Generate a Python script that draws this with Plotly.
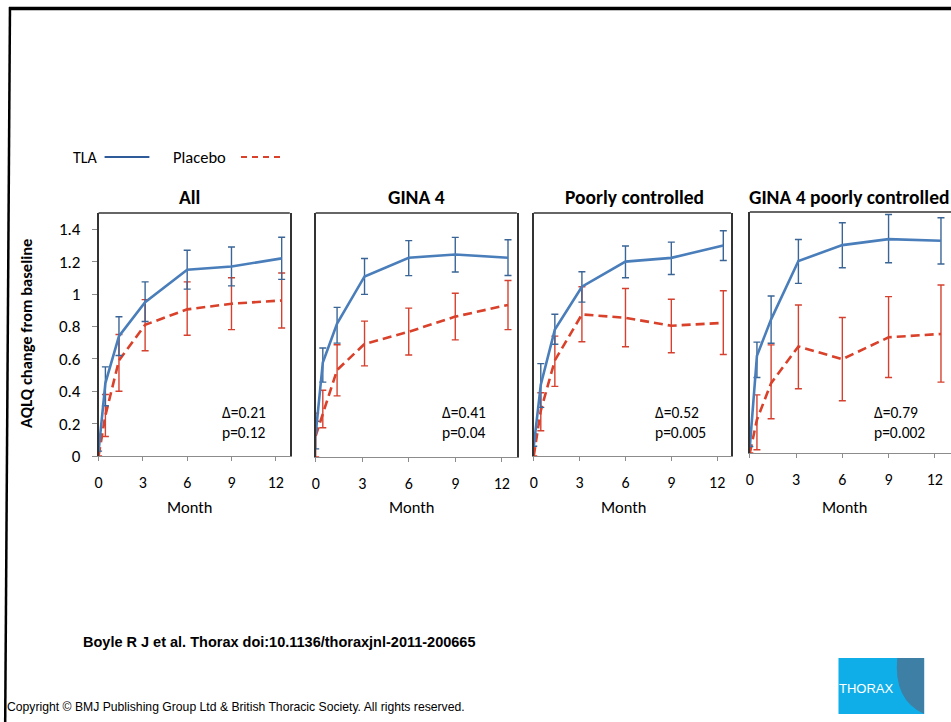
import plotly.graph_objects as go

# ---------------- data ----------------
months = [0, 0.46, 1.38, 3.15, 6, 9, 12.4]
x_ticks = [0, 3, 6, 9, 12]
y_ticks = [0, 0.2, 0.4, 0.6, 0.8, 1, 1.2, 1.4]
y_tick_labels = ["0", "0.2", "0.4", "0.6", "0.8", "1", "1.2", "1.4"]

panel_titles = ["All", "GINA 4", "Poorly controlled", "GINA 4 poorly controlled"]
panel_stats = ["Δ=0.21<br>p=0.12", "Δ=0.41<br>p=0.04", "Δ=0.52<br>p=0.005", "Δ=0.79<br>p=0.002"]

# All
tla_all = [0.03, 0.45, 0.74, 0.95, 1.15, 1.17, 1.22]
tla_all_lo = [0.03, 0.31, 0.62, 0.83, 1.03, 1.05, 1.09]
tla_all_hi = [0.03, 0.55, 0.86, 1.075, 1.27, 1.29, 1.35]
pla_all = [0.0, 0.25, 0.59, 0.81, 0.905, 0.94, 0.96]
pla_all_lo = [0.0, 0.12, 0.40, 0.65, 0.745, 0.78, 0.79]
pla_all_hi = [0.0, 0.38, 0.75, 0.965, 1.075, 1.10, 1.13]

# GINA 4
tla_g4 = [0.14, 0.58, 0.82, 1.11, 1.225, 1.245, 1.225]
tla_g4_lo = [0.05, 0.46, 0.70, 1.0, 1.115, 1.137, 1.116]
tla_g4_hi = [0.22, 0.67, 0.92, 1.22, 1.33, 1.35, 1.336]
pla_g4 = [0.13, 0.27, 0.535, 0.695, 0.77, 0.863, 0.935]
pla_g4_lo = [0.0, 0.18, 0.376, 0.56, 0.627, 0.72, 0.783]
pla_g4_hi = [0.27, 0.41, 0.69, 0.835, 0.915, 1.007, 1.085]

# Poorly controlled
tla_pc = [0.06, 0.44, 0.78, 1.045, 1.2, 1.223, 1.30]
tla_pc_lo = [0.06, 0.30, 0.69, 0.95, 1.10, 1.12, 1.207]
tla_pc_hi = [0.06, 0.57, 0.875, 1.137, 1.296, 1.32, 1.39]
pla_pc = [0.0, 0.28, 0.59, 0.874, 0.853, 0.804, 0.822]
pla_pc_lo = [0.0, 0.156, 0.43, 0.705, 0.674, 0.637, 0.627]
pla_pc_hi = [0.0, 0.39, 0.74, 1.045, 1.034, 0.968, 1.02]

# GINA 4 poorly controlled
tla_g4pc = [0.04, 0.605, 0.832, 1.195, 1.294, 1.331, 1.321]
tla_g4pc_lo = [0.04, 0.47, 0.683, 1.056, 1.153, 1.184, 1.176]
tla_g4pc_hi = [0.04, 0.69, 0.977, 1.329, 1.433, 1.484, 1.464]
pla_g4pc = [0.0, 0.207, 0.435, 0.663, 0.584, 0.72, 0.741]
pla_g4pc_lo = [0.0, 0.02, 0.213, 0.40, 0.325, 0.47, 0.441]
pla_g4pc_hi = [0.0, 0.362, 0.673, 0.921, 0.843, 0.973, 1.046]

panels = [
    (tla_all, tla_all_lo, tla_all_hi, pla_all, pla_all_lo, pla_all_hi),
    (tla_g4, tla_g4_lo, tla_g4_hi, pla_g4, pla_g4_lo, pla_g4_hi),
    (tla_pc, tla_pc_lo, tla_pc_hi, pla_pc, pla_pc_lo, pla_pc_hi),
    (tla_g4pc, tla_g4pc_lo, tla_g4pc_hi, pla_g4pc, pla_g4pc_lo, pla_g4pc_hi),
]

# ---------------- layout geometry (design pixels, 951 x 722) ----------------
W, H = 951, 722
FIG_H = 733
def px(x):
    return x / W
def py(y):
    return 1 - y / H

panel_px = [  # left, right, top, bottom, xmax
    (95, 287, 213, 456, 12.95),
    (313, 515, 213, 457, 12.97),
    (532, 730, 213, 456, 12.9),
    (749, 951, 212, 453, 13.05),
]
title_cx = [186, 414, 633, 849]
month_cx = [187, 410, 623, 845]
stat_left = [217, 438, 652, 872]

BLUE = "#4A7EBB"
BLUE_ERR = "#3A6596"
RED = "#D9412B"
RED_ERR = "#D6402E"
FONT = "Carlito, Lato, sans-serif"

fig = go.Figure()
layout = dict(
    width=W, height=FIG_H, margin=dict(l=0, r=0, t=0, b=0),
    paper_bgcolor="white", plot_bgcolor="white", showlegend=False,
)
annotations = []
shapes = []

for i, (t, tlo, thi, p, plo, phi) in enumerate(panels):
    n = "" if i == 0 else str(i + 1)
    xa, ya = "x" + n, "y" + n
    l, r, tp, bt, xmax = panel_px[i]
    fig.add_trace(go.Scatter(
        x=months, y=p, xaxis=xa, yaxis=ya, mode="lines", cliponaxis=False,
        line=dict(color=RED, width=2.6, dash="9px,5px"),
        error_y=dict(type="data", symmetric=False,
                     array=[h - v for h, v in zip(phi, p)],
                     arrayminus=[v - lo for v, lo in zip(p, plo)],
                     color=RED_ERR, thickness=1.4, width=3.5),
    ))
    fig.add_trace(go.Scatter(
        x=months, y=t, xaxis=xa, yaxis=ya, mode="lines", cliponaxis=False,
        line=dict(color=BLUE, width=2.6),
        error_y=dict(type="data", symmetric=False,
                     array=[h - v for h, v in zip(thi, t)],
                     arrayminus=[v - lo for v, lo in zip(t, tlo)],
                     color=BLUE_ERR, thickness=1.4, width=3.5),
    ))
    layout["xaxis" + n] = dict(
        domain=[px(l), px(r)], range=[0, xmax], anchor=ya,
        tickvals=x_ticks, ticks="outside", ticklen=4, tickcolor="#8c8c8c",
        showline=True, linecolor="#8c8c8c", linewidth=1, mirror=False,
        showgrid=False, zeroline=False, fixedrange=True,
        tickfont=dict(family=FONT, size=16, color="black"),
        ticklabelstandoff=8,
    )
    layout["yaxis" + n] = dict(
        domain=[py(bt), py(tp)], range=[0, 1.5], anchor=xa,
        showline=True, linecolor="#333333", linewidth=1.5,
        mirror=(i < 3), showgrid=False, zeroline=False,
        tickvals=y_ticks, ticktext=y_tick_labels,
        ticks="outside" if i == 0 else "", ticklen=5, tickcolor="#8c8c8c",
        showticklabels=(i == 0), fixedrange=True,
        tickfont=dict(family=FONT, size=17, color="black"),
        ticklabelstandoff=8,
    )
    # top border of panel box
    shapes.append(dict(type="line", xref=xa + " domain", yref=ya + " domain",
                       x0=0, x1=1 if i < 3 else 1.02, y0=1, y1=1,
                       line=dict(color="#333333", width=1.5)))
    annotations.append(dict(text="<b>" + panel_titles[i] + "</b>", xref="paper", yref="paper",
                            x=px(title_cx[i]), y=py(197), showarrow=False,
                            font=dict(family=FONT, size=19.5, color="black"),
                            xanchor="center", yanchor="middle"))
    annotations.append(dict(text="Month", xref="paper", yref="paper",
                            x=px(month_cx[i]), y=py(507), showarrow=False,
                            font=dict(family=FONT, size=16.5, color="black"),
                            xanchor="center", yanchor="middle"))
    annotations.append(dict(text=panel_stats[i], xref="paper", yref="paper",
                            x=px(stat_left[i]), y=py(422), showarrow=False, align="left",
                            font=dict(family=FONT, size=15.5, color="black"),
                            xanchor="left", yanchor="middle"))

# y-axis title
annotations.append(dict(text="<b>AQLQ change from baseline</b>", xref="paper", yref="paper",
                        x=px(22), y=py(333), showarrow=False, textangle=-90,
                        font=dict(family=FONT, size=16.5, color="black"),
                        xanchor="center", yanchor="middle"))

# legend
annotations.append(dict(text="TLA", xref="paper", yref="paper", x=px(67), y=py(157),
                        showarrow=False, xanchor="left", yanchor="middle",
                        font=dict(family=FONT, size=16, color="black")))
annotations.append(dict(text="Placebo", xref="paper", yref="paper", x=px(168), y=py(157),
                        showarrow=False, xanchor="left", yanchor="middle",
                        font=dict(family=FONT, size=16.5, color="black")))
shapes.append(dict(type="line", xref="paper", yref="paper", x0=px(101), x1=px(146),
                   y0=py(157), y1=py(157), line=dict(color="#2F5B9A", width=2)))
shapes.append(dict(type="line", xref="paper", yref="paper", x0=px(238), x1=px(279),
                   y0=py(157), y1=py(157), line=dict(color=RED, width=2, dash="6px,5px")))

# footer texts
annotations.append(dict(text="<b>Boyle R J et al. Thorax doi:10.1136/thoraxjnl-2011-200665</b>",
                        xref="paper", yref="paper", x=px(77), y=py(642), showarrow=False,
                        xanchor="left", yanchor="middle",
                        font=dict(family="Liberation Sans, Arial, sans-serif", size=14.5, color="black")))
annotations.append(dict(text="Copyright © BMJ Publishing Group Ltd & British Thoracic Society. All rights reserved.",
                        xref="paper", yref="paper", x=px(1), y=py(707), showarrow=False,
                        xanchor="left", yanchor="middle",
                        font=dict(family="Liberation Sans Narrow, Liberation Sans, Arial, sans-serif",
                                  size=12.2, color="black")))

# THORAX logo
shapes.append(dict(type="rect", xref="paper", yref="paper", x0=px(838), x1=px(924),
                   y0=py(714), y1=py(658), fillcolor="#10AEE8", line=dict(width=0)))
shapes.append(dict(type="path", xref="paper", yref="paper",
                   path=(f"M {px(897)},{py(658)} Q {px(893)},{py(700)} {px(924)},{py(714)} "
                         f"L {px(924)},{py(658)} Z"),
                   fillcolor="#3E7FA6", line=dict(width=0)))
annotations.append(dict(text="THORAX", xref="paper", yref="paper", x=px(866), y=py(688),
                        showarrow=False, xanchor="center", yanchor="middle",
                        font=dict(family="Liberation Sans, Arial, sans-serif", size=13, color="white")))

# slide frame (top edge and slightly slanted left edge)
shapes.append(dict(type="line", xref="paper", yref="paper", x0=px(5), x1=1,
                   y0=py(8.5), y1=py(8.5), line=dict(color="black", width=3.5)))
shapes.append(dict(type="line", xref="paper", yref="paper", x0=px(6), x1=px(1.2),
                   y0=py(7), y1=0, line=dict(color="black", width=2.5)))

layout["annotations"] = annotations
layout["shapes"] = shapes
fig.update_layout(**layout)

post = (
    "document.documentElement.style.margin='0px';"
    "document.documentElement.style.overflow='hidden';"
    "document.body.style.margin='0px';"
    "document.body.style.overflow='hidden';"
)
fig.write_html("out.html", config={"displayModeBar": False}, post_script=post)
